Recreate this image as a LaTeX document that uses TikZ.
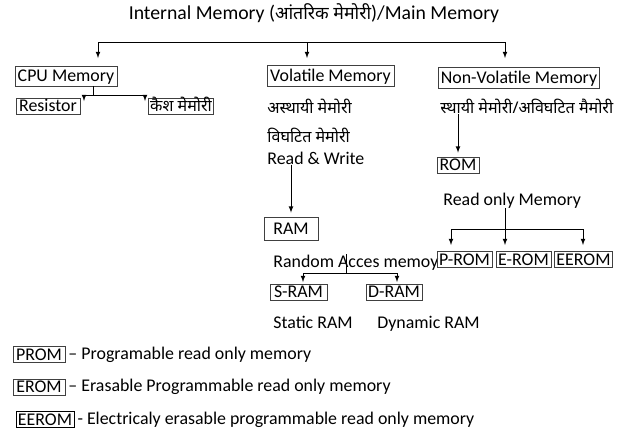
\documentclass[tikz,border=0pt]{standalone}
\usepackage{fontspec}
\setmainfont{Carlito}
\newfontfamily\hindi[Script=Devanagari,Scale=0.9]{Noto Sans}
\usetikzlibrary{positioning,calc}

\tikzset{
  box/.style 2 args={draw=black!75, inner xsep=1.5pt, inner ysep=0pt, minimum width=#1*0.75pt,
    minimum height=#2*0.75pt, text height=8.8pt, text depth=0.4pt},
  lbl/.style={anchor=base west, inner sep=0pt},
  note/.style={anchor=west, inner sep=2pt},
}

\begin{document}
\begin{tikzpicture}[x=0.75pt, y=-0.75pt, line width=0.6pt,
    font=\fontsize{13.4}{16}\selectfont]
    \useasboundingbox (0,0) rectangle (629,430);

    % Heading
    \node[anchor=base, font=\fontsize{14.8}{17}\selectfont] (title) at (314,19) {Internal Memory ({\hindi आंतरिक मेमोरी})/Main Memory};

    % First level
    \node[box={102}{20}] (cpu) at (66,76) {CPU Memory};
    \node[box={127}{21}] (vol) at (330.5,75.5) {Volatile Memory};
    \node[box={158}{21}] (nonvol) at (519,77.5) {Non-Volatile Memory};

    \coordinate (barL) at (98,42);
    \coordinate (barM) at (307,42);
    \coordinate (barR) at (505,42);
    \draw (barL) -- (barR);
    \foreach \c in {barL,barM,barR}
        \draw[-latex] (\c) -- ++(0,16);

    % CPU memory
    \node[box={64}{16}] (resistor) at (48,106) {Resistor};
    \node[box={64}{16}] (cache) at (181,106) {\hindi कैश मेमोरी};
    \coordinate (cpuJ) at (93,95);
    \coordinate (resTip) at (84,101);
    \coordinate (cacheTip) at (145,101);
    \draw (cpu.south -| cpuJ) -- (cpuJ);
    \draw[-latex] (cpuJ) -| (resTip);
    \draw[-latex] (cpuJ) -| (cacheTip);

    % Volatile memory
    \node[lbl] (asthayi) at (267,113) {\hindi अस्थायी मेमोरी};
    \node[lbl] (vighatit) at (267,142) {\hindi विघटित मेमोरी};
    \node[lbl] (rw) at (267,164) {Read \& Write};
    \node[box={54}{23}] (ram) at (291,228.5) {RAM};
    \draw[-latex, shorten >=3pt] (rw.south -| ram.north) -- (ram.north);

    \node[lbl] (randtxt) at (273,267) {Random Acces memoy};
    \node[box={57}{16}] (sram) at (298.5,292) {S-RAM};
    \node[box={56}{16}] (dram) at (394,292) {D-RAM};
    \coordinate (ramJ) at (346,273);
    \coordinate (sramTip) at (303,282);
    \coordinate (dramTip) at (397,282);
    \draw (randtxt.north -| ramJ) -- (ramJ);
    \draw[-latex] (ramJ) -| (sramTip);
    \draw[-latex] (ramJ) -| (dramTip);

    \node[lbl] (static) at (273,328) {Static RAM};
    \node[lbl] (dynamic) at (377,328) {Dynamic RAM};

    % Non-volatile memory
    \node[lbl] (sthayi) at (440,113) {\hindi स्थायी मेमोरी/अविघटित मैमोरी};
    \node[box={42}{16}] (rom) at (458,165) {ROM};
    \draw[-latex, shorten >=3pt] (sthayi.south -| rom.north) -- (rom.north);

    \node[lbl] (romtxt) at (443,205) {Read only Memory};
    \node[box={55}{16}] (prom) at (464.5,259.5) {P-ROM};
    \node[box={55}{16}] (erom) at (523.5,259.5) {E-ROM};
    \node[box={57}{16}] (eerom) at (583.5,259.5) {EEROM};
    \coordinate (romJ) at (505,229);
    \coordinate (promTip) at (451,245);
    \coordinate (eeromTip) at (583,245);
    \draw (romtxt.south -| romJ) -- (romJ);
    \draw[-latex] (romJ) -- ++(0,16);
    \draw[-latex] (romJ) -| (promTip);
    \draw[-latex] (romJ) -| (eeromTip);

    % Legend
    \node[box={52}{16}] (key1) at (39,354.5) {PROM};
    \node[note, right=0pt of key1] (txt1) {– Programable read only memory};
    \node[box={52}{16}] (key2) at (39,387) {EROM};
    \node[note, right=0pt of key2] (txt2) {– Erasable Programmable read only memory};
    \node[box={54}{16}, draw=black] (key3) at (45,419.5) {EEROM};
    \node[note, right=0pt of key3] (txt3) {- Electricaly erasable programmable read only memory};
\end{tikzpicture}
\end{document}
